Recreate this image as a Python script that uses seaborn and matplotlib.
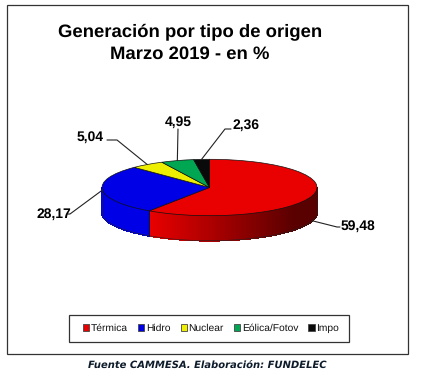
import numpy as np
import seaborn as sns
import matplotlib.pyplot as plt
from matplotlib.patches import Rectangle

# datos
categorias = ['Térmica', 'Hidro', 'Nuclear', 'Eólica/Fotov', 'Impo']
valores = [59.48, 28.17, 5.04, 4.95, 2.36]
etiquetas = ['59,48', '28,17', '5,04', '4,95', '2,36']
colores = sns.color_palette(['#e90000', '#0000e6', '#eeee00', '#00a651', '#0a0a0a'])

sns.set_theme(style='white')
plt.rcParams['font.family'] = ['Liberation Sans', 'DejaVu Sans']
plt.rcParams['text.hinting'] = 'no_hinting'

W, H = 421, 379
cx, cy, rx, ry, prof = 209.5, 187.5, 107.5, 28.2, 25

fig = plt.figure(figsize=(W / 100, H / 100), dpi=100)
fig.patch.set_facecolor('white')

# capa en pixeles para marco y textos
capa = fig.add_axes([0, 0, 1, 1], zorder=3)
capa.set_xlim(0, W)
capa.set_ylim(H, 0)
capa.axis('off')
capa.patch.set_alpha(0)

# torta, el circulo unitario se aplasta a una elipse
ax = fig.add_axes([(cx - rx) / W, 1 - (cy + ry) / H, 2 * rx / W, 2 * ry / H], zorder=2)
cuñas, _ = ax.pie(valores, colors=colores, startangle=90, counterclock=False,
                  wedgeprops={'edgecolor': '#111111', 'linewidth': 0.5})
ax.set_aspect('auto')
ax.set_xlim(-1, 1)
ax.set_ylim(-1, 1)

# costado 3D, tiras angulares
d = prof / ry
acum = np.cumsum([0] + valores) / sum(valores)
ang = 90 - acum * 360
for i in range(len(valores)):
    th = np.linspace(ang[i + 1], ang[i], 150)
    th = np.radians(th)
    for a, b in zip(th[:-1], th[1:]):
        if np.sin((a + b) / 2) >= 0:
            continue
        x = [np.cos(a), np.cos(b), np.cos(b), np.cos(a)]
        y = [np.sin(a), np.sin(b), np.sin(b) - d, np.sin(a) - d]
        base = np.array(colores[i])
        if i == 0:
            t = np.clip((np.cos(a) + 0.56) / 1.36, 0, 1)
            c = base * (1 - 0.62 * t)
        else:
            c = base
        ax.fill(x, y, color=tuple(c), lw=0.6, clip_on=False, zorder=0, antialiased=False)

# contorno del costado
th = np.radians(np.linspace(180, 360, 200))
ax.plot(np.cos(th), np.sin(th) - d, color='#222222', lw=0.4, clip_on=False, zorder=1)
ax.plot([-1, -1], [0, -d], color='#222222', lw=0.4, clip_on=False, zorder=1)
ax.plot([1, 1], [0, -d], color='#222222', lw=0.4, clip_on=False, zorder=1)
xb = np.cos(np.radians(ang[1]))
yb = np.sin(np.radians(ang[1]))
ax.plot([xb, xb], [yb, yb - d], color='#111111', lw=0.6, clip_on=False, zorder=1)

# etiquetas con lineas guia
guias = [[(337, 227), (340, 227)], [(70, 214), (68, 214)], [(117, 140), (107, 140)],
         [(178, 129), (178, 129)], [(225, 129), (231, 129)]]
pos_texto = [(341, 226), (37, 214), (77, 137), (165, 122), (233, 125)]
medios = (acum[:-1] + acum[1:]) / 2
for i, et in enumerate(etiquetas):
    a = np.radians(90 - medios[i] * 360)
    x0 = cx + rx * np.cos(a)
    y0 = cy - ry * np.sin(a) + (prof if i == 0 else 0)
    xs = [x0] + [p[0] for p in guias[i]]
    ys = [y0] + [p[1] for p in guias[i]]
    capa.plot(xs, ys, color='#222222', lw=0.8)
    capa.text(pos_texto[i][0], pos_texto[i][1], et, fontsize=10, fontweight='bold',
              color='black', va='center', ha='left')

# marco
capa.add_patch(Rectangle((6.5, 4.5), 401, 349.5, fill=False, ec='#333333', lw=0.9))

# titulo
capa.text(190, 32, 'Generación por tipo de origen', fontsize=13.3, fontweight='bold',
          ha='center', va='center', color='black')
capa.text(190, 54, 'Marzo 2019 - en %', fontsize=13.3, fontweight='bold',
          ha='center', va='center', color='black')

# leyenda
capa.add_patch(Rectangle((69, 315), 280, 27, fill=False, ec='#333333', lw=0.9))
ley = capa.legend(cuñas, categorias, ncol=5, loc='center', frameon=False,
                  bbox_to_anchor=(211 / W, 1 - 328.5 / H), bbox_transform=fig.transFigure,
                  fontsize=7.4, handlelength=0.6, handleheight=0.7, handletextpad=0.15,
                  columnspacing=1.0, borderpad=0, labelcolor='#111111')
for h in ley.legend_handles:
    h.set_edgecolor('#444444')
    h.set_linewidth(0.6)

# fuente
capa.text(207, 365, 'Fuente CAMMESA. Elaboración: FUNDELEC', fontsize=7.2, fontweight='bold',
          fontstyle='italic', family='DejaVu Sans', ha='center', va='center', color='#0d1b2a')

fig.savefig('out.png', dpi=100)
